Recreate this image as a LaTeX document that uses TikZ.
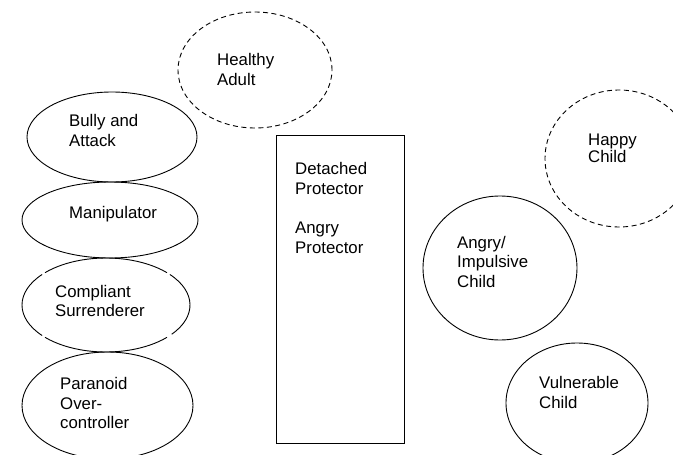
\documentclass[tikz,border=0pt]{standalone}
\usepackage{fontspec}
\setmainfont{Liberation Sans}
\usetikzlibrary{shapes.geometric}
\begin{document}
\begin{tikzpicture}[x=1pt,y=-1pt,
  oval/.style={draw=black, line width=0.9pt, ellipse, inner sep=0pt, outer sep=0pt},
  dashedoval/.style={oval, dash pattern=on 5pt off 3.5pt},
  txt/.style={anchor=base west, inner sep=0pt, align=left, text=black,
    font=\fontsize{16.8pt}{19.6pt}\selectfont}]
\useasboundingbox (0,0) rectangle (673,455);

% left column
\node[oval, minimum width=170pt, minimum height=90pt] (bully) at (112,137) {};
\node[oval, minimum width=176pt, minimum height=76pt] (manip) at (110,220) {};
\coordinate (comp) at (106,305);
\foreach \a/\b in {43.5/136.5, 139.5/220.5, 223.5/316.5, 319.5/398.5}
  \draw[line width=0.9pt] ([shift={(\a:84 and 47)}]comp) arc[start angle=\a, end angle=\b, x radius=84, y radius=47];
\node[oval, minimum width=171pt, minimum height=107pt] (para) at (107.5,405.5) {};

% healthy adult
\node[dashedoval, minimum width=154pt, minimum height=116pt] (adult) at (255,70) {};

% protector box
\node[draw=black, line width=0.9pt, inner sep=0pt, minimum width=128pt, minimum height=308pt] (prot) at (340,289) {};

% right side
\node[dashedoval, minimum width=148pt, minimum height=137pt] (happy) at (619,158.5) {};
\node[oval, minimum width=154pt, minimum height=144pt] (angry) at (500,268) {};
\node[oval, minimum width=142pt, minimum height=120pt] (vuln) at (577,403) {};

% texts (anchor = baseline of the last line)
\node[txt] (bullyT) at (69,146.5) {Bully and\\Attack};
\node[txt] (manipT) at (69,218) {Manipulator};
\node[txt] (compT) at (55,316.8) {Compliant\\Surrenderer};
\node[txt] (paraT) at (60,428.8) {Paranoid\\Over-\\controller};
\node[txt] (adultT) at (217,85.3) {Healthy\\Adult};
\node[txt] (protT) at (295,253.3) {Detached\\Protector\\[19.6pt]Angry\\Protector};
\node[txt] (happyT) at (588,162.3) {Happy\\[-2.6pt]Child};
\node[txt] (angryT) at (457,287.2) {Angry/\\Impulsive\\Child};
\node[txt] (vulnT) at (539,408.3) {Vulnerable\\Child};
\end{tikzpicture}
\end{document}
